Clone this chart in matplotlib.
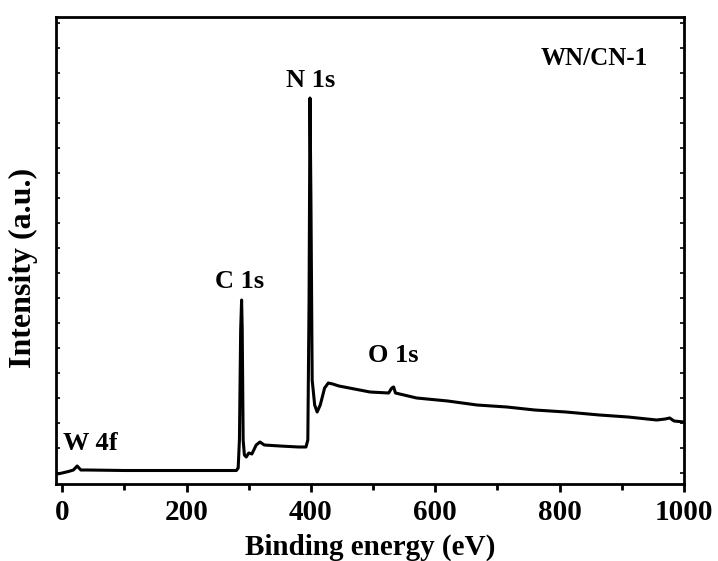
import numpy as np
import matplotlib.pyplot as plt

# XPS survey of WN/CN-1
energy = [-8, 0, 10, 18, 24, 30, 40, 100, 200, 280, 283, 285, 287, 288.5, 289.5, 291, 293,
          296, 300, 305, 312, 318, 325, 350, 380, 392, 395, 397, 398.5, 400, 402, 406, 410,
          415, 422, 428, 435, 445, 470, 495, 525, 530, 533, 536, 570, 620, 667, 715, 760,
          810, 864, 910, 956, 970, 977, 984, 1000]
intensity = [10, 11, 12.5, 14, 18, 14, 14, 13.5, 13.5, 13.5, 16, 44, 154, 184, 154, 44, 29,
             27, 31, 30, 39, 42, 39, 38, 37, 37, 44, 184, 386, 284, 104, 79, 72,
             79, 96, 101, 100, 98, 95, 92, 91, 96, 97, 91, 86, 83, 79, 77, 74,
             72, 69, 67, 64, 65, 66, 63, 62]

peak_labels = ["W 4f", "C 1s", "N 1s", "O 1s"]
label_x = [45, 286, 399, 532]
label_y = [34, 196, 397, 122]

plt.rcParams['font.family'] = ['Liberation Serif', 'DejaVu Serif']
plt.rcParams['font.weight'] = 'bold'

fig = plt.figure(figsize=(7.18, 5.61), dpi=100)
ax = fig.add_axes([56/718, 1-484/561, (684-56)/718, (484-17)/561])
ax.plot(energy, intensity, color='black', lw=2.2)

for lab, xx, yy in zip(peak_labels, label_x, label_y):
    ax.text(xx, yy, lab, fontsize=19, fontweight='bold', ha='center', va='baseline')
ax.text(0.943, 0.897, "WN/CN-1", transform=ax.transAxes, fontsize=18,
        fontweight='bold', ha='right', va='baseline')

ax.set_xlim(-10, 1000)
ax.set_ylim(0, 467)
ax.set_xticks(np.arange(0, 1001, 200))
ax.set_xticks(np.arange(0, 1001, 100), minor=True)
ax.set_yticks(np.arange(11, 467, 25))
ax.set_yticklabels([])
ax.tick_params(axis='x', which='major', direction='out', length=6, width=2,
               labelsize=21, pad=5)
ax.tick_params(axis='x', which='minor', direction='out', length=4, width=2)
ax.tick_params(axis='y', direction='in', length=3, width=1.2, left=True, right=True)
for lbl in ax.get_xticklabels():
    lbl.set_fontweight('bold')
for sp in ax.spines.values():
    sp.set_linewidth(2)

ax.set_xlabel("Binding energy (eV)", fontsize=21, fontweight='bold', labelpad=5)
ax.set_ylabel("Intensity (a.u.)", fontsize=23, fontweight='bold')
ax.yaxis.set_label_coords(-0.029, 0.4625)

fig.savefig("out.png", dpi=100)
